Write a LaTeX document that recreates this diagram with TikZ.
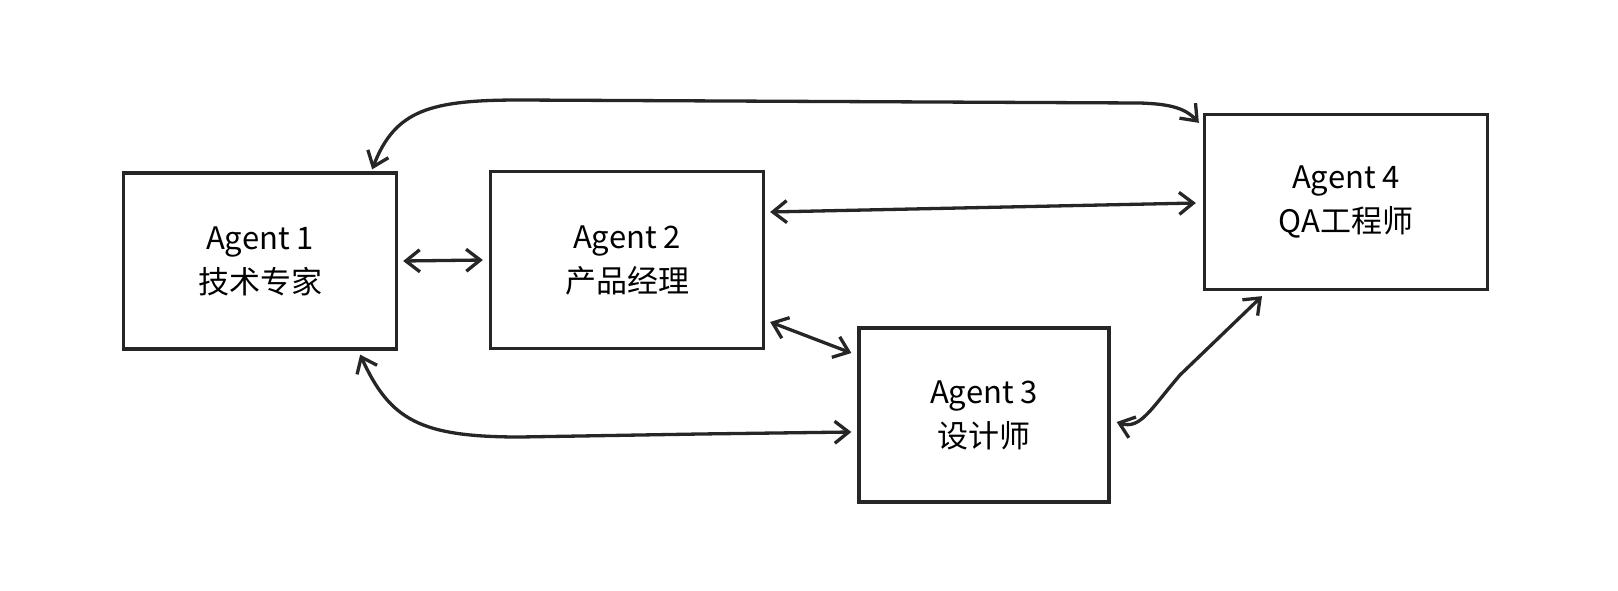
\documentclass[tikz,border=0pt]{standalone}
\usepackage{fontspec}
\setmainfont{Noto Sans CJK SC}
\usetikzlibrary{arrows.meta}
\begin{document}
\begin{tikzpicture}[x=1pt,y=-1pt,
 box/.style={draw=black!85,line width=3.3pt,minimum width=#1,inner sep=0pt,align=center,font=\fontsize{31}{44}\selectfont},
 con/.style={draw=black!85,line width=3.3pt,{Straight Barb[length=14pt,width=22pt]}-{Straight Barb[length=14pt,width=22pt]}}]
\useasboundingbox[fill=white] (0,0) rectangle (1618,590);
\node[box=273pt,minimum height=176pt] (a1) at (260,261) {Agent 1\\技术专家};
\node[box=273pt,minimum height=177pt] (a2) at (627,260) {Agent 2\\产品经理};
\node[box=250pt,minimum height=174pt] (a3) at (984,415) {Agent 3\\设计师};
\node[box=283pt,minimum height=175pt] (a4) at (1346,202) {Agent 4\\QA工程师};
\draw[con] ([xshift=-26pt,yshift=2pt]a1.north east) .. controls (395,110) and (430,100) .. (520,100) -- (1140,103) .. controls (1170,104) and (1185,108) .. ([xshift=-4pt,yshift=-10pt]a4.north west);
\draw[con] ([xshift=5pt]a1.east) -- ([xshift=-6pt]a2.west);
\draw[con] ([xshift=5pt,yshift=48pt]a2.east) -- ([xshift=-7pt,yshift=-1pt]a4.west);
\draw[con] ([xshift=5pt,yshift=-62pt]a2.east) -- ([xshift=-6pt,yshift=62pt]a3.west);
\draw[con] ([xshift=-38pt,yshift=-4pt]a1.south east) .. controls (390,420) and (420,437) .. (520,437) -- (700,434) -- ([xshift=-6pt,yshift=-17pt]a3.west);
\draw[con] ([xshift=6pt,yshift=-7pt]a3.east) .. controls (1140,430) and (1150,410) .. (1180,375) -- ([xshift=-84pt,yshift=-5pt]a4.south);
\end{tikzpicture}
\end{document}
